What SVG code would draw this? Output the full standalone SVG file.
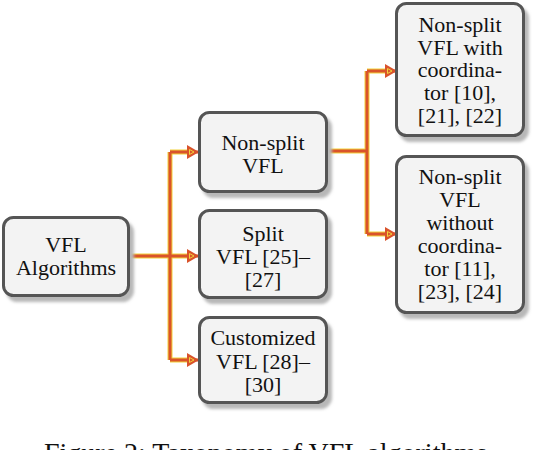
<svg xmlns="http://www.w3.org/2000/svg" width="538" height="450" viewBox="0 0 538 450">
<style>
.box{fill:#f3f3f3;stroke:#545454;stroke-width:3;filter:url(#sh)}
.t{font-family:'Liberation Serif','DejaVu Serif',serif;font-size:22px;fill:#111;text-anchor:middle}
.cap{font-family:'Liberation Serif','DejaVu Serif',serif;font-size:28px;fill:#111;text-anchor:middle}
.under{fill:none;stroke:#f2d23a;stroke-width:5}
.line{fill:none;stroke:#d9532b;stroke-width:3}
.arr{marker-end:url(#ah)}
</style>
<defs>
<filter id="sh" x="-10%" y="-10%" width="130%" height="130%">
<feGaussianBlur in="SourceAlpha" stdDeviation="1.8"/>
<feOffset dx="4" dy="5" result="b"/>
<feFlood flood-color="#b8b8b8"/>
<feComposite in2="b" operator="in" result="s"/>
<feMerge><feMergeNode in="s"/><feMergeNode in="SourceGraphic"/></feMerge>
</filter>
<marker id="ah" viewBox="0 0 12 14" refX="11" refY="7" markerWidth="12" markerHeight="14" markerUnits="userSpaceOnUse" orient="auto">
<path d="M0,0 L12,7 L0,14 z" fill="#d9532b"/>
<path d="M2.5,4.5 L7,7 L2.5,9.5 z" fill="none" stroke="#f2d23a" stroke-width="1"/>
</marker>
</defs>
<rect width="538" height="450" fill="#fff"/>
<g id="connectors">
<path class="under" d="M128,256 H188 M170,152 V360 M170,152 H188 M170,360 H188 M327,151 H367 M367,71 V234 M367,71 H386 M367,234 H386"/>
<path class="line" d="M170,152 V360 M327,151 H367 M367,71 V234"/>
<path class="line arr" d="M128,256 H198"/>
<path class="line arr" d="M170,152 H198"/>
<path class="line arr" d="M170,360 H198"/>
<path class="line arr" d="M367,71 H396"/>
<path class="line arr" d="M367,234 H396"/>
</g>
<g id="n-vfl">
<rect class="box" x="3.5" y="217.5" width="125" height="78" rx="10"/>
<text class="t" x="66" y="252">VFL</text>
<text class="t" x="66" y="274.5">Algorithms</text>
</g>
<g id="n-nonsplit">
<rect class="box" x="199.5" y="112.5" width="127" height="79" rx="10"/>
<text class="t" x="263" y="150">Non-split</text>
<text class="t" x="263" y="172.5">VFL</text>
</g>
<g id="n-split">
<rect class="box" x="199.5" y="210.5" width="127" height="87" rx="10"/>
<text class="t" x="263" y="241">Split</text>
<text class="t" x="263" y="264">VFL [25]–</text>
<text class="t" x="263" y="287">[27]</text>
</g>
<g id="n-custom">
<rect class="box" x="199.5" y="317.5" width="127" height="85" rx="10"/>
<text class="t" x="263" y="345">Customized</text>
<text class="t" x="263" y="368.5">VFL [28]–</text>
<text class="t" x="263" y="392">[30]</text>
</g>
<g id="n-with">
<rect class="box" x="396.5" y="3.5" width="127" height="132" rx="10"/>
<text class="t" x="460" y="32">Non-split</text>
<text class="t" x="460" y="54.5">VFL with</text>
<text class="t" x="460" y="77">coordina-</text>
<text class="t" x="460" y="100">tor [10],</text>
<text class="t" x="460" y="123">[21], [22]</text>
</g>
<g id="n-without">
<rect class="box" x="396.5" y="156.5" width="127" height="156" rx="10"/>
<text class="t" x="460" y="183.5">Non-split</text>
<text class="t" x="460" y="206.5">VFL</text>
<text class="t" x="460" y="229.5">without</text>
<text class="t" x="460" y="252.5">coordina-</text>
<text class="t" x="460" y="275.5">tor [11],</text>
<text class="t" x="460" y="298.5">[23], [24]</text>
</g>
<text class="cap" x="269" y="462">Figure 2: Taxonomy of VFL algorithms.</text>
</svg>
